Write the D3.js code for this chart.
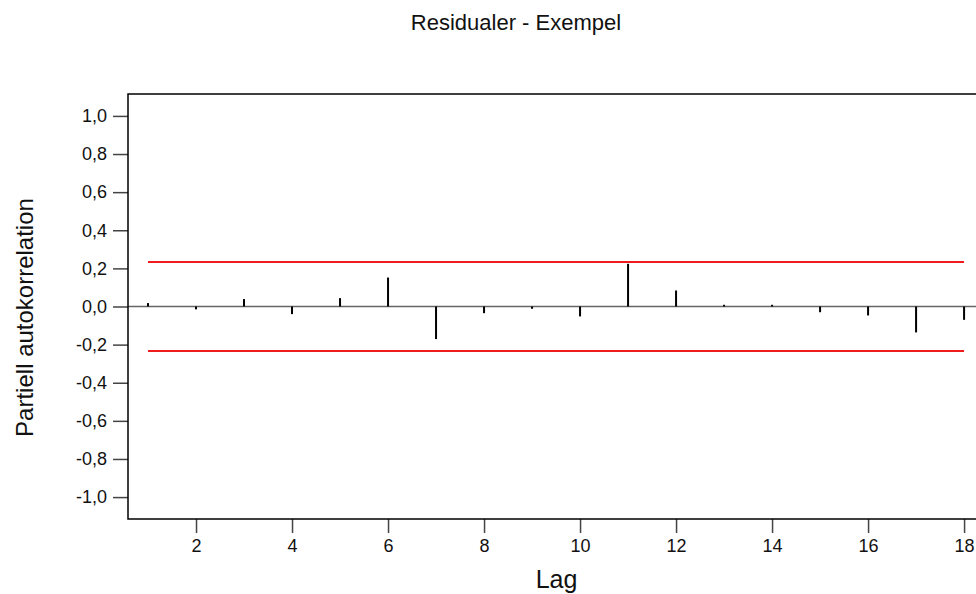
<!DOCTYPE html>
<html>
<head>
<meta charset="utf-8">
<script src="https://cdn.jsdelivr.net/npm/d3@7"></script>
<style>
  body { margin: 0; background: #fff; }
  svg { display: block; font-family: Arial, "Liberation Sans", sans-serif; }
</style>
</head>
<body>
<div id="chart"></div>
<script>
// partial autocorrelation of the residuals, lag 1..18
var lags = [1, 2, 3, 4, 5, 6, 7, 8, 9, 10, 11, 12, 13, 14, 15, 16, 17, 18];
var pacf = [0.018, -0.015, 0.039, -0.04, 0.044, 0.152, -0.171, -0.035, -0.012,
            -0.052, 0.224, 0.084, 0.009, 0.009, -0.03, -0.047, -0.136, -0.07];
var limit = 0.233;
var xTicks = [2, 4, 6, 8, 10, 12, 14, 16, 18];
var yTicks = [-1.0, -0.8, -0.6, -0.4, -0.2, 0.0, 0.2, 0.4, 0.6, 0.8, 1.0];

var width = 976, height = 594;
var margin = {left: 128, top: 94, right: 990, bottom: 519};

var svg = d3.select("#chart")
    .append("svg")
    .attr("width", width)
    .attr("height", height);

var x = d3.scaleLinear()
    .domain([0.583, 18.54])
    .range([margin.left, margin.right]);

var y = d3.scaleLinear()
    .domain([-1.115, 1.115])
    .range([margin.bottom, margin.top]);

var fmt = function(d) { return d3.format(".1f")(d).replace(".", ",").replace("\u2212", "-"); };

// zero line
svg.append("line")
    .attr("x1", margin.left).attr("x2", margin.right)
    .attr("y1", y(0)).attr("y2", y(0))
    .style("stroke", "#666")
    .style("stroke-width", 1.5);

// confidence limits
[limit, -limit].forEach(function(v) {
  svg.append("line")
      .attr("x1", x(1)).attr("x2", x(18))
      .attr("y1", y(v)).attr("y2", y(v))
      .style("stroke", "#ee1c1c")
      .style("stroke-width", 2);
});

// spikes
svg.selectAll(".spike")
    .data(lags)
    .enter().append("line")
    .attr("class", "spike")
    .attr("x1", function(d) { return x(d); })
    .attr("x2", function(d) { return x(d); })
    .attr("y1", y(0))
    .attr("y2", function(d, i) { return y(pacf[i]); })
    .style("stroke", "#000")
    .style("stroke-width", 2);

// y axis
var gy = svg.append("g")
    .attr("transform", "translate(" + margin.left + ",0)")
    .call(d3.axisLeft(y).tickValues(yTicks).tickFormat(fmt).tickSize(15).tickPadding(6));

// x axis
var gx = svg.append("g")
    .attr("transform", "translate(0," + margin.bottom + ")")
    .call(d3.axisBottom(x).tickValues(xTicks).tickSize(14).tickPadding(6));

[gx, gy].forEach(function(g) {
  g.select(".domain").remove();
  g.selectAll(".tick line").style("stroke", "#444").style("stroke-width", 1.5);
  g.selectAll(".tick text")
      .style("font-size", "18px")
      .style("font-family", "Arial, 'Liberation Sans', sans-serif")
      .style("fill", "#111");
});

// frame
svg.append("path")
    .attr("d", "M" + margin.right + "," + margin.top + "H" + margin.left + "V" + margin.bottom + "H" + margin.right)
    .style("fill", "none")
    .style("stroke", "#000")
    .style("stroke-width", 1.5);

// title
svg.append("text")
    .attr("x", 516)
    .attr("y", 30)
    .attr("text-anchor", "middle")
    .style("font-size", "22px")
    .style("fill", "#111")
    .text("Residualer - Exempel");

// x label
svg.append("text")
    .attr("x", 556.5)
    .attr("y", 588)
    .attr("text-anchor", "middle")
    .style("font-size", "25px")
    .style("fill", "#111")
    .text("Lag");

// y label
svg.append("text")
    .attr("transform", "translate(33,317.5) rotate(-90)")
    .attr("text-anchor", "middle")
    .style("font-size", "24px")
    .style("fill", "#111")
    .text("Partiell autokorrelation");
</script>
</body>
</html>
